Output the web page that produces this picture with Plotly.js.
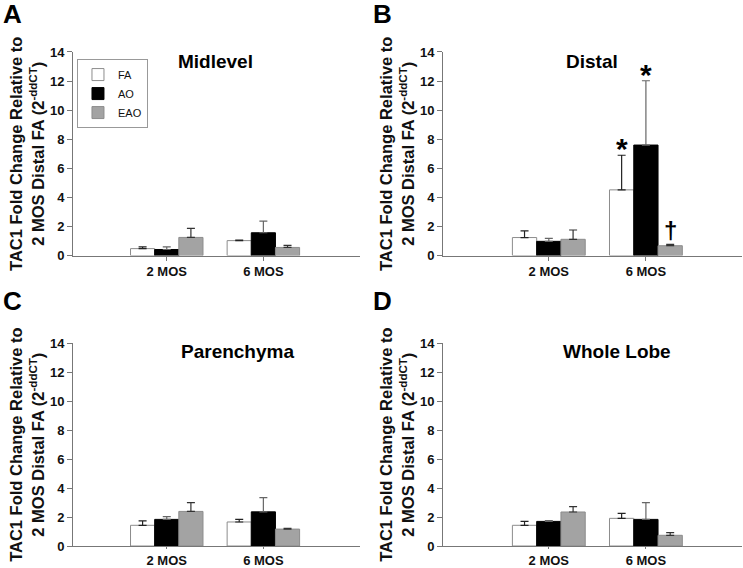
<!DOCTYPE html>
<html>
<head>
<meta charset="utf-8">
<script src="https://cdn.plot.ly/plotly-3.0.1.min.js"></script>
<style>
  html, body { margin: 0; padding: 0; background: #fff; }
  #chart { width: 743px; height: 568px; }
</style>
</head>
<body>
<div id="chart"></div>
<script>
// TAC1 fold change, four lung regions, FA / AO / EAO at 2 and 6 months

const timepoints = ['2 MOS', '6 MOS']

// means and upper error (SEM)
const midlevelFA = [0.48, 1.03]
const midlevelFAErr = [0.12, 0.04]
const midlevelAO = [0.42, 1.57]
const midlevelAOErr = [0.18, 0.80]
const midlevelEAO = [1.25, 0.56]
const midlevelEAOErr = [0.62, 0.14]

const distalFA = [1.24, 4.52]
const distalFAErr = [0.46, 2.38]
const distalAO = [0.98, 7.6]
const distalAOErr = [0.2, 4.42]
const distalEAO = [1.12, 0.68]
const distalEAOErr = [0.64, 0.09]

const parenchymaFA = [1.43, 1.66]
const parenchymaFAErr = [0.3, 0.18]
const parenchymaAO = [1.84, 2.36]
const parenchymaAOErr = [0.19, 0.98]
const parenchymaEAO = [2.39, 1.17]
const parenchymaEAOErr = [0.6, 0.05]

const wholeFA = [1.43, 1.91]
const wholeFAErr = [0.27, 0.35]
const wholeAO = [1.70, 1.84]
const wholeAOErr = [0.05, 1.15]
const wholeEAO = [2.35, 0.74]
const wholeEAOErr = [0.37, 0.18]

const FONT = 'Liberation Sans, Arial, sans-serif'

// bar styles per group
const fills = { FA: '#ffffff', AO: '#000000', EAO: '#a3a3a3' }
const outlines = { FA: '#8c8c8c', AO: '#000000', EAO: '#8c8c8c' }
const errColors = { FA: '#222222', AO: '#666666', EAO: '#333333' }

function makeBar(name, y, err, axisNum) {
  const sfx = axisNum === 1 ? '' : String(axisNum)
  return {
    type: 'bar',
    name,
    x: timepoints,
    y,
    xaxis: 'x' + sfx,
    yaxis: 'y' + sfx,
    legendgroup: name,
    showlegend: axisNum === 1,
    marker: { color: fills[name], line: { color: outlines[name], width: 1 } },
    error_y: {
      type: 'data',
      symmetric: false,
      array: err,
      arrayminus: y.map(() => 0),
      color: errColors[name],
      thickness: 1.2,
      width: 4,
    },
    hoverinfo: 'x+y+name',
  }
}

const panels = [
  [midlevelFA, midlevelFAErr, midlevelAO, midlevelAOErr, midlevelEAO, midlevelEAOErr],
  [distalFA, distalFAErr, distalAO, distalAOErr, distalEAO, distalEAOErr],
  [parenchymaFA, parenchymaFAErr, parenchymaAO, parenchymaAOErr, parenchymaEAO, parenchymaEAOErr],
  [wholeFA, wholeFAErr, wholeAO, wholeAOErr, wholeEAO, wholeEAOErr],
]

const data = []
panels.forEach((p, i) => {
  data.push(makeBar('FA', p[0], p[1], i + 1))
  data.push(makeBar('AO', p[2], p[3], i + 1))
  data.push(makeBar('EAO', p[4], p[5], i + 1))
})

// AXES
const yTitle = 'TAC1 Fold Change Relative to<br>2 MOS Distal FA (2<sup>-ddCT</sup>)'

function xAxis(domain, range, anchor, tlen) {
  return {
    domain,
    range,
    anchor,
    type: 'category',
    showline: true,
    linecolor: '#777',
    linewidth: 1,
    ticks: 'outside',
    ticklen: tlen,
    tickcolor: '#777',
    showgrid: false,
    zeroline: false,
    tickfont: { family: FONT, size: 13, weight: 700, color: '#111' },
    fixedrange: true,
  }
}

function yAxis(domain, anchor) {
  return {
    domain,
    anchor,
    range: [0, 14],
    dtick: 2,
    showline: true,
    linecolor: '#777',
    linewidth: 1,
    ticks: 'outside',
    ticklen: 5,
    tickcolor: '#777',
    showgrid: false,
    zeroline: false,
    tickfont: { family: FONT, size: 13, weight: 700, color: '#111' },
    title: { text: yTitle, standoff: 1, font: { family: FONT, size: 16.5, weight: 700, color: '#111' } },
    fixedrange: true,
  }
}

const leftX = [0.0983, 0.4845]
const rightX = [0.5962, 0.9987]
const topY = [0.55, 0.9085]
const botY = [0.0387, 0.3956]

// annotations: panel letters, panel titles, significance marks
function label(text, x, y, size, anchorX, anchorY) {
  return {
    text, x, y, xref: 'paper', yref: 'paper',
    xanchor: anchorX, yanchor: anchorY, showarrow: false,
    font: { family: FONT, size, weight: 700, color: '#000' },
  }
}

const annotations = [
  label('A', 0.002, 1.006, 26, 'left', 'top'),
  label('B', 0.499, 1.006, 26, 'left', 'top'),
  label('C', 0.002, 0.5, 26, 'left', 'top'),
  label('D', 0.499, 0.5, 26, 'left', 'top'),
  label('Midlevel', 0.2894, 0.8926, 19, 'center', 'middle'),
  label('Distal', 0.7968, 0.8926, 19, 'center', 'middle'),
  label('Parenchyma', 0.3203, 0.3803, 19, 'center', 'middle'),
  label('Whole Lobe', 0.8304, 0.3803, 19, 'center', 'middle'),
]

// significance marks above 6 MOS bars of Distal (bar offsets: -0.25, 0, +0.25)
const marks = [
  { text: '*', x: 0.75, y: distalFA[1] + distalFAErr[1], size: 30 },
  { text: '*', x: 1.0, y: distalAO[1] + distalAOErr[1], size: 30 },
  { text: '†', x: 1.25, y: distalEAO[1] + distalEAOErr[1], size: 24 },
]
marks.forEach((m) => {
  annotations.push({
    text: m.text, x: m.x, y: m.y, xref: 'x2', yref: 'y2',
    xanchor: 'center', yanchor: 'bottom', yshift: m.text === '*' ? -12 : -2,
    showarrow: false,
    font: { family: FONT, size: m.size, weight: 700, color: '#000' },
  })
})

const layout = {
  width: 743,
  height: 568,
  margin: { l: 0, r: 0, t: 0, b: 0 },
  paper_bgcolor: '#fff',
  plot_bgcolor: '#fff',
  barmode: 'group',
  bargap: 0.25,
  bargroupgap: 0,
  showlegend: true,
  legend: {
    x: 0.1036,
    y: 0.896,
    xanchor: 'left',
    yanchor: 'top',
    bgcolor: '#fff',
    bordercolor: '#999',
    borderwidth: 1,
    font: { family: FONT, size: 11, color: '#111' },
    tracegroupgap: 0,
    itemwidth: 30,
  },
  xaxis: xAxis(leftX, [-0.97, 2.0], 'y', 4),
  yaxis: yAxis(topY, 'x'),
  xaxis2: xAxis(rightX, [-1.09, 1.99], 'y2', 4),
  yaxis2: yAxis(topY, 'x2'),
  xaxis3: xAxis(leftX, [-0.97, 2.0], 'y3', 2),
  yaxis3: yAxis(botY, 'x3'),
  xaxis4: xAxis(rightX, [-1.09, 1.99], 'y4', 2),
  yaxis4: yAxis(botY, 'x4'),
  annotations,
}

Plotly.newPlot('chart', data, layout, { displayModeBar: false, staticPlot: true })
</script>
</body>
</html>
